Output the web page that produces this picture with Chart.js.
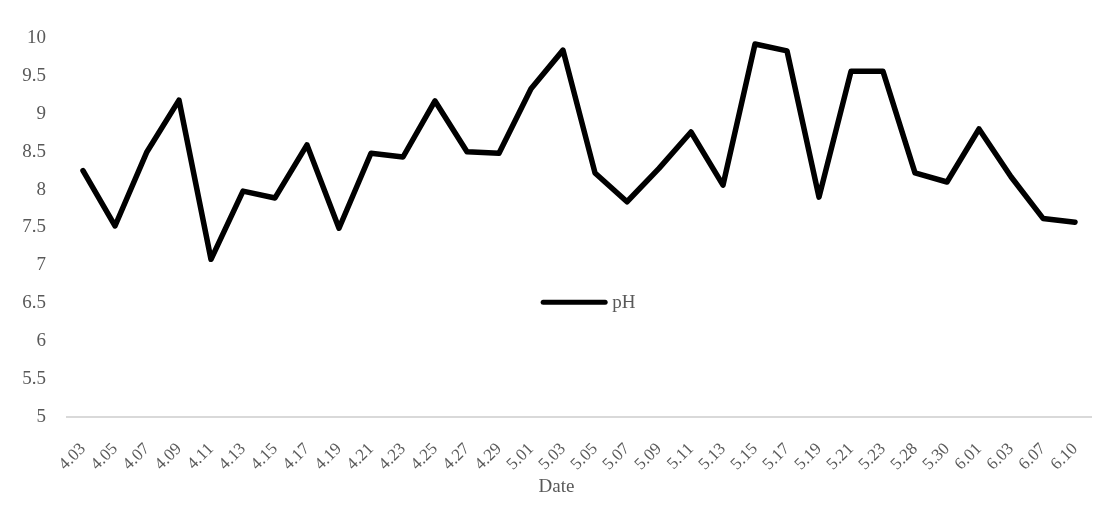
<!DOCTYPE html>
<html>
<head>
<meta charset="utf-8">
<script src="https://cdn.jsdelivr.net/npm/chart.js@4/dist/chart.umd.min.js"></script>
<style>
  html, body { margin: 0; padding: 0; background: #fff; }
  #wrap { width: 1113px; height: 512px; }
</style>
</head>
<body>
<div id="wrap"><canvas id="phChart" width="1113" height="512"></canvas></div>
<script>
// Dates des prélèvements
const dates = ['4.03','4.05','4.07','4.09','4.11','4.13','4.15','4.17','4.19','4.21',
               '4.23','4.25','4.27','4.29','5.01','5.03','5.05','5.07','5.09','5.11',
               '5.13','5.15','5.17','5.19','5.21','5.23','5.28','5.30','6.01','6.03',
               '6.07','6.10'];

// Valeurs de pH
const phValues = [8.25, 7.52, 8.50, 9.18, 7.08, 7.98, 7.89, 8.59, 7.49, 8.48,
                  8.43, 9.17, 8.50, 8.48, 9.33, 9.84, 8.22, 7.84, 8.28, 8.76,
                  8.06, 9.92, 9.83, 7.90, 9.56, 9.56, 8.22, 8.10, 8.80, 8.17,
                  7.62, 7.57];

// Graduations de l'axe Y
const yMin  = 5;
const yMax  = 10;
const yStep = 0.5;

const xTitle    = 'Date';
const textColor = '#595959';
const serif     = '"Liberation Serif", "Times New Roman", serif';

// Légende dessinée à l'intérieur de la zone du graphique + titre de l'axe X
const innerLegend = {
  id: 'innerLegend',
  afterDraw(chart) {
    const { ctx, chartArea } = chart;
    const ds = chart.data.datasets[0];
    const x0 = chartArea.left + (chartArea.right - chartArea.left) * 0.465;
    const y0 = chartArea.top + (chartArea.bottom - chartArea.top) * 0.697;
    ctx.save();
    ctx.strokeStyle = ds.borderColor;
    ctx.lineWidth = 5;
    ctx.lineCap = 'round';
    ctx.beginPath();
    ctx.moveTo(x0, y0);
    ctx.lineTo(x0 + 62, y0);
    ctx.stroke();
    ctx.fillStyle = textColor;
    ctx.font = '19px ' + serif;
    ctx.textBaseline = 'middle';
    ctx.fillText(ds.label, x0 + 69, y0 + 1);

    // titre "Date" centré sur la largeur du canvas
    ctx.textAlign = 'center';
    ctx.fillText(xTitle, chart.width / 2, 487);
    ctx.restore();
  }
};

const ctx = document.getElementById('phChart').getContext('2d');
new Chart(ctx, {
  type: 'line',
  data: {
    labels: dates,
    datasets: [{
      label: 'pH',
      data: phValues,
      borderColor: '#000',
      borderWidth: 5.5,
      borderJoinStyle: 'round',
      borderCapStyle: 'round',
      pointRadius: 0,
      tension: 0,
      fill: false
    }]
  },
  options: {
    responsive: false,
    animation: false,
    layout: { padding: { left: 0, right: 22, top: 38, bottom: 0 } },
    plugins: {
      legend: { display: false },
      tooltip: { enabled: false }
    },
    scales: {
      x: {
        offset: true,
        grid: { display: false, drawTicks: false },
        border: { display: true, color: '#d9d9d9', width: 2 },
        ticks: {
          color: textColor,
          font: { family: serif, size: 17 },
          minRotation: 45,
          maxRotation: 45,
          autoSkip: false,
          padding: 22
        },
        afterFit(scale) { scale.height = 95; }
      },
      y: {
        min: yMin,
        max: yMax,
        grid: { display: false, drawTicks: false },
        border: { display: false },
        ticks: {
          stepSize: yStep,
          color: textColor,
          font: { family: serif, size: 19 },
          padding: 21,
          callback: v => String(+v.toFixed(1))
        },
        afterFit(scale) { scale.width = 67; }
      }
    }
  },
  plugins: [innerLegend]
});
</script>
</body>
</html>
